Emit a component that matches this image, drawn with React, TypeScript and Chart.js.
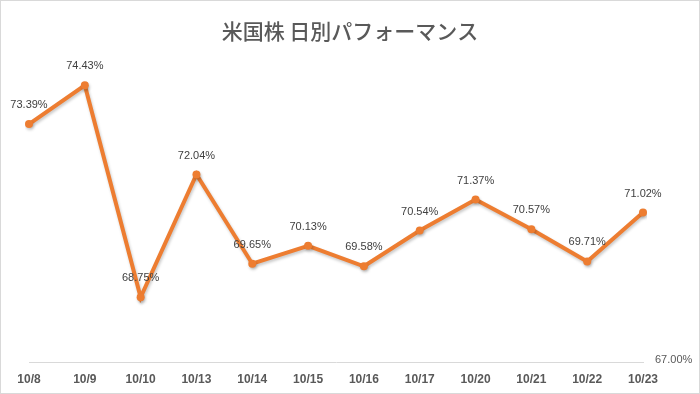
import React, { useEffect, useRef } from "react";
import { Chart, registerables } from "chart.js";

Chart.register(...registerables);

const TITLE = "米国株 日別パフォーマンス";
const CATEGORIES = ["10/8", "10/9", "10/10", "10/13", "10/14", "10/15", "10/16", "10/17", "10/20", "10/21", "10/22", "10/23"];
const PERFORMANCE = [73.39, 74.43, 68.75, 72.04, 69.65, 70.13, 69.58, 70.54, 71.37, 70.57, 69.71, 71.02];
const Y_MIN = 67;
const Y_MAX = 75;

const LINE_COLOR = "#ED7D31";

const overlayPlugin = {
  id: "overlay",
  beforeDatasetDraw(chart: any) {
    const ctx = chart.ctx;
    ctx.save();
    ctx.shadowColor = "rgba(0,0,0,0.22)";
    ctx.shadowBlur = 3;
    ctx.shadowOffsetX = 1;
    ctx.shadowOffsetY = 2;
  },
  afterDatasetDraw(chart: any) {
    chart.ctx.restore();
  },
  afterDraw(chart: any) {
    const ctx = chart.ctx;
    const meta = chart.getDatasetMeta(0);
    const data = chart.data.datasets[0].data as number[];
    ctx.save();
    // title, centred on the whole canvas
    ctx.font = "500 21px 'Noto Sans CJK JP', sans-serif";
    ctx.fillStyle = "#595959";
    ctx.textAlign = "center";
    ctx.textBaseline = "middle";
    ctx.fillText(TITLE, chart.width / 2, 31);
    // data labels
    ctx.font = "11px 'Liberation Sans', Arial, sans-serif";
    ctx.fillStyle = "#404040";
    meta.data.forEach((pt: any, i: number) => {
      ctx.fillText(data[i].toFixed(2) + "%", pt.x, pt.y - 19);
    });
    // y axis min label at right end of the category axis
    const y = chart.scales.y.getPixelForValue(Y_MIN);
    ctx.textAlign = "left";
    ctx.fillStyle = "#595959";
    ctx.fillText(Y_MIN.toFixed(2) + "%", chart.chartArea.right + 12, y - 3);
    // chart border
    ctx.strokeStyle = "#d9d9d9";
    ctx.lineWidth = 1;
    ctx.strokeRect(0.5, 0.5, chart.width - 1, chart.height - 1);
    ctx.restore();
  },
};

export default function App() {
  const ref = useRef<HTMLCanvasElement>(null);
  useEffect(() => {
    if (!ref.current) return;
    const chart = new Chart(ref.current, {
      type: "line",
      data: {
        labels: CATEGORIES,
        datasets: [
          {
            data: PERFORMANCE,
            borderColor: LINE_COLOR,
            backgroundColor: LINE_COLOR,
            borderWidth: 4,
            pointRadius: 4,
            pointHoverRadius: 4,
            pointBorderWidth: 0,
            tension: 0,
          },
        ],
      },
      options: {
        responsive: false,
        animation: false,
        layout: { padding: { left: 29, right: 57, top: 64, bottom: -3 } },
        plugins: {
          legend: { display: false },
          tooltip: { enabled: false },
          title: { display: false },
        },
        scales: {
          x: {
            offset: false,
            grid: { display: false, drawTicks: false },
            border: { display: true, color: "#d9d9d9", width: 1 },
            ticks: {
              color: "#595959",
              font: { family: "'Liberation Sans', Arial, sans-serif", size: 12, weight: "bold" },
              padding: 10,
              maxRotation: 0,
              autoSkip: false,
            },
          },
          y: {
            display: false,
            min: Y_MIN,
            max: Y_MAX,
          },
        },
      },
      plugins: [overlayPlugin],
    });
    return () => chart.destroy();
  }, []);
  return (
    <div style={{ position: "fixed", left: 0, top: 0, width: 700, height: 394, background: "#fff" }}>
      <canvas ref={ref} width={700} height={394} />
    </div>
  );
}
